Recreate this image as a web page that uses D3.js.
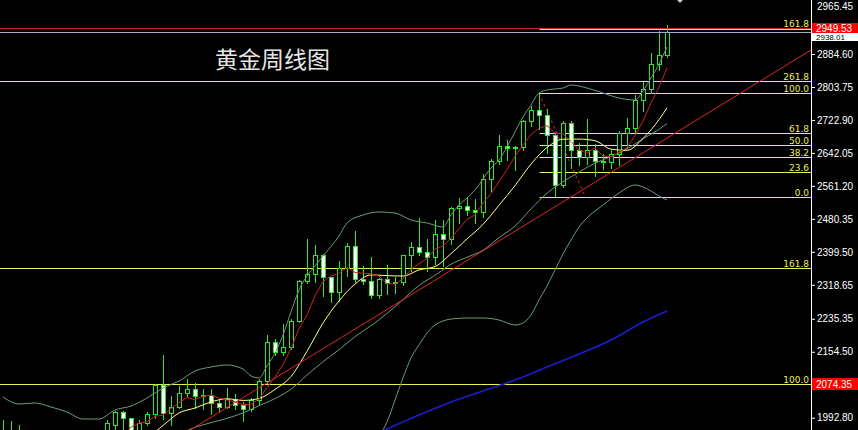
<!DOCTYPE html>
<html><head><meta charset="utf-8">
<script src="https://cdn.jsdelivr.net/npm/d3@7"></script>
<style>html,body{margin:0;padding:0;background:#000;overflow:hidden}</style>
</head><body>
<svg id="c" width="858" height="430"></svg>
<script>
// ---------- DATA ----------
const titleText = "黄金周线图";
const opens  = [1955,1962,1959,1943,1913,1889,1914,1940,1919,1924,1925,1848,1832,1932,1975,2006,1992,1937,1981,2002,2072,2004,2019,2053,2063,2045,2049,2029,2018,2039,2024,2013,2035,2083,2179,2155,2165,2229,2329,2344,2392,2337,2301,2360,2414,2333,2327,2293,2333,2322,2326,2392,2411,2400,2386,2443,2431,2507,2512,2503,2497,2578,2622,2658,2653,2657,2720,2747,2736,2685,2563,2716,2650,2633,2648,2622,2621,2639,2690,2702,2771,2799,2861,2883];
const highs  = [1988,1984,1974,1948,1916,1922,1953,1953,1933,1947,1936,1858,1933,1987,2009,2009,1993,1988,2007,2075,2146,2047,2070,2088,2079,2062,2062,2036,2065,2051,2032,2041,2088,2195,2185,2222,2236,2330,2431,2417,2395,2338,2378,2422,2450,2364,2388,2336,2368,2338,2392,2424,2483,2432,2477,2477,2509,2531,2531,2529,2590,2626,2685,2673,2660,2722,2758,2789,2750,2688,2721,2721,2666,2726,2664,2639,2650,2697,2728,2784,2817,2887,2941,2955];
const lows   = [1948,1942,1928,1913,1885,1884,1913,1915,1901,1913,1857,1810,1831,1908,1953,1965,1931,1931,1976,1993,1990,1975,2016,2045,2017,2013,2001,2010,2016,2015,1984,2009,2024,2079,2146,2146,2161,2228,2322,2325,2291,2277,2280,2340,2325,2320,2286,2286,2295,2299,2318,2353,2392,2353,2370,2364,2418,2470,2491,2471,2485,2547,2615,2625,2600,2648,2708,2700,2643,2537,2559,2604,2613,2615,2585,2603,2604,2612,2653,2694,2745,2790,2845,2877];
const closes = [1962,1959,1943,1913,1889,1914,1940,1919,1924,1925,1848,1832,1932,1981,2006,1992,1937,1980,2001,2072,2004,2019,2053,2063,2045,2049,2029,2018,2039,2024,2013,2035,2083,2178,2155,2165,2230,2329,2344,2392,2337,2301,2360,2414,2333,2327,2293,2333,2322,2326,2392,2411,2400,2386,2443,2431,2507,2512,2503,2497,2578,2622,2658,2653,2657,2720,2747,2736,2685,2563,2716,2650,2633,2648,2622,2621,2639,2690,2702,2771,2799,2861,2883,2938];

// red MA (read per bar, starting at bar 13)
const ma5Start = 13;
const ma5 = [1903.6,1919.8,1948.6,1969.6,1979.2,1983.2,1996.4,1998.8,2015.2,2029.8,2042.2,2036.8,2045.8,2047.8,2040.8,2036,2031.8,2024.6,2025.8,2038.8,2066.6,2092.8,2123.2,2162.2,2211.4,2244.6,2292,2326.4,2340.6,2346.8,2360.8,2349,2347,2345.4,2340,2321.6,2320.2,2333.2,2356.8,2370.2,2383,2406.4,2414.2,2433.4,2455.8,2479.2,2490,2519.4,2542.4,2571.6,2601.6,2633.6,2662,2687,2702.6,2709,2690.2,2689.4,2670,2649.4,2642,2653.8,2634.8,2632.6,2644,2654.8,2684.6,2720.2,2764.6,2803.2,2850.4];
// yellow MA
const ma10Idx = [10,12,14,16,18,20,22,24,26,28,30,32,34,36,38,40,42,44,46,48,50,52,54,56,58,60,62,64,66,68,70,72,74,76,78,80,82,83];
const ma10 = [1917.4,1903.6,1922.1,1929.6,1943.4,1973.7,2004.5,2016.6,2031.5,2039.1,2035.2,2039.8,2062.3,2094,2155.6,2224.8,2279.1,2320.5,2343,2341.2,2340.1,2355.1,2363.3,2395.1,2431.1,2466.8,2513.7,2561.8,2614.7,2655.3,2675.7,2676,2672,2651.3,2648.4,2677.5,2723.6,2752.6];
// band middle
const midIdx = [20,22,24,26,28,30,32,34,36,38,40,42,44,46,48,50,52,54,56,58,60,62,64,66,68,70,72,74,76,78,80,82,83];
const mid = [1945.6,1954,1969.4,1980.6,1991.3,2004.5,2022.2,2039.5,2062.8,2097.4,2130,2159.5,2191.4,2218.5,2248.4,2282.5,2317.1,2341.9,2369.1,2386.2,2403.5,2434.4,2462.6,2504.9,2543.2,2571.3,2594.9,2616.9,2633,2651.9,2676.6,2699.8,2714.1];
// band upper
const upIdx = [0,2,4,6,8,10,12,14,16,18,20,22,24,26,28,30,31,32,33,34,35,36,37,38,39,40,42,43,45,47,49,51,53,55,56,57,58,59,61,62,63,65,66,67,68,70,71,73,75,77,79,80,81,82,83];
const up = [2043.6,2026.4,2028.9,2019,2006.8,1989.6,1989.6,2011.7,2021.5,2041.1,2065.6,2082.8,2107.3,2117.1,2122,2112.2,2095.1,2090.2,2119.6,2151.5,2195.6,2252,2305.9,2340.3,2364.8,2389.3,2438.3,2470.2,2489.8,2497.2,2494.7,2477.6,2470.2,2460.4,2489.8,2514.3,2531.5,2551.1,2605.1,2624.7,2656.6,2730.1,2759.6,2789,2796.3,2801.2,2808.6,2801.2,2789,2776.7,2771.8,2793.9,2825.8,2860.1,2901.8];
// band lower
const loIdx = [44,46,47,48,49,50,51,52,53,54,55,56,58,60,62,64,65,66,67,68,69,70,71,72,73,75,77,79,80,81,82,83];
const lo = [1889,1925.9,1947.9,1982.3,2036.2,2090.2,2139.2,2171.1,2200.5,2220.1,2229.9,2234.8,2237.3,2237.3,2232.4,2220.1,2225,2244.6,2281.4,2315.7,2355,2394.2,2428.5,2460.4,2482.5,2514.3,2543.8,2563.4,2558.5,2548.7,2536.4,2526.6];
// blue long MA
const blueIdx = [46,48,52,56,60,64,68,72,76,80,83];
const blue = [1947.9,1965.1,1999.4,2031.3,2058.3,2085.2,2117.1,2149,2183.3,2227.4,2254.4];
// trend line anchors (bar index, price)
const trendIdx = [23.4, 101];
const trendVal = [1962.6, 2894.4];
// fibonacci (small set, drawn from bar 67)
const fibStartIdx = 67;
const fibLevels = ["0.0","23.6","38.2","50.0","61.8","100.0"];
const fibPrices = [2534, 2594.2, 2631.4, 2661.5, 2691.6, 2789];
const fibAnchorIdx = [67, 72.8];
const fibAnchorVal = [2789, 2534];
const fibTopLabel = "161.8";
const fibTopPrice = 2946.6;
// fibonacci (large set, full width)
const bigFibLevels = ["100.0","161.8","261.8"];
const bigFibPrices = [2074.35, 2358.8, 2819.2];
// price markers
const redPrice = 2949.53;
const bidPrice = 2938.01;
const redLevelLabel = 2074.35;
// axis ticks
const yTicks = [2965.45,2884.60,2803.75,2722.90,2642.05,2561.20,2480.35,2399.50,2318.65,2235.35,2154.50,1992.80];

// ---------- CHART ----------
const W = 858, H = 430, plotRight = 811;
const n = closes.length;
const x = d3.scaleLinear().domain([0, 83]).range([3, 667]);
const y = d3.scaleLinear().domain([1992.80, 2884.60]).range([417.7, 54]);
const px = v => Math.round(v) + 0.5;

const svg = d3.select('#c');
svg.append('rect').attr('width', W).attr('height', H).attr('fill', '#000');
svg.append('defs').append('clipPath').attr('id', 'pc')
  .append('rect').attr('x', 0).attr('y', 0).attr('width', plotRight).attr('height', H);
const g = svg.append('g').attr('clip-path', 'url(#pc)');

// title
g.append('text').attr('x', 215).attr('y', 68).text(titleText)
  .attr('fill', '#e6e6e6').style('font', '23px "Noto Sans CJK SC", sans-serif');

const FIB = '#eeee58';
// large fib set (full width)
bigFibPrices.forEach((p, k) => {
  const yy = px(y(p));
  g.append('line').attr('x1', 0).attr('x2', plotRight).attr('y1', yy).attr('y2', yy)
    .attr('stroke', FIB).attr('stroke-width', 1);
  g.append('text').attr('x', 809).attr('y', yy - 2).attr('text-anchor', 'end')
    .text(bigFibLevels[k]).attr('fill', FIB).style('font', '9px "DejaVu Sans", sans-serif');
});
// small fib set
const fx0 = px(x(fibStartIdx));
fibPrices.forEach((p, k) => {
  const yy = px(y(p));
  g.append('line').attr('x1', fx0).attr('x2', plotRight).attr('y1', yy).attr('y2', yy)
    .attr('stroke', FIB).attr('stroke-width', 1);
  g.append('text').attr('x', 809).attr('y', yy - 2).attr('text-anchor', 'end')
    .text(fibLevels[k]).attr('fill', FIB).style('font', '9px "DejaVu Sans", sans-serif');
});
{
  const yy = px(y(fibTopPrice));
  g.append('line').attr('x1', fx0).attr('x2', plotRight).attr('y1', yy).attr('y2', yy)
    .attr('stroke', FIB).attr('stroke-width', 1);
  g.append('text').attr('x', 809).attr('y', yy - 3).attr('text-anchor', 'end')
    .text(fibTopLabel).attr('fill', FIB).style('font', '9px "DejaVu Sans", sans-serif');
}
// fib anchor dashed line
g.append('line')
  .attr('x1', x(fibAnchorIdx[0])).attr('y1', y(fibAnchorVal[0]))
  .attr('x2', x(fibAnchorIdx[1])).attr('y2', y(fibAnchorVal[1]))
  .attr('stroke', '#e02020').attr('stroke-dasharray', '3,3').attr('stroke-width', 1);

// candles
const GREEN = '#22ee22';
const candles = d3.range(n).map(i => ({i, o: opens[i], h: highs[i], l: lows[i], c: closes[i]}));
const cg = g.append('g');
cg.selectAll('line.w').data(candles).join('line').attr('class', 'w')
  .attr('x1', d => px(x(d.i))).attr('x2', d => px(x(d.i)))
  .attr('y1', d => Math.round(y(d.h))).attr('y2', d => Math.round(y(d.l)) + 1)
  .attr('stroke', GREEN).attr('stroke-width', 1);
cg.selectAll('rect.b').data(candles).join('rect').attr('class', 'b')
  .attr('x', d => px(x(d.i)) - 2)
  .attr('y', d => px(y(Math.max(d.o, d.c))))
  .attr('width', 4)
  .attr('height', d => Math.max(0, px(y(Math.min(d.o, d.c))) - px(y(Math.max(d.o, d.c)))))
  .attr('fill', d => d.c >= d.o ? '#000' : '#ffffff')
  .attr('stroke', GREEN).attr('stroke-width', 1);

// indicator lines
const mkLine = (idx, vals, curve) => d3.line()
  .x((d, k) => x(idx[k])).y(d => y(d)).curve(curve)(vals);
const BAND = '#6a9a78';
g.append('path').attr('d', mkLine(upIdx, up, d3.curveMonotoneX)).attr('fill', 'none').attr('stroke', BAND).attr('stroke-width', 1);
g.append('path').attr('d', mkLine(loIdx, lo, d3.curveMonotoneX)).attr('fill', 'none').attr('stroke', BAND).attr('stroke-width', 1);
g.append('path').attr('d', mkLine(midIdx, mid, d3.curveMonotoneX)).attr('fill', 'none').attr('stroke', BAND).attr('stroke-width', 1);
g.append('path').attr('d', mkLine(blueIdx, blue, d3.curveMonotoneX)).attr('fill', 'none').attr('stroke', '#1c1cd0').attr('stroke-width', 1.6);
g.append('path').attr('d', mkLine(ma10Idx, ma10, d3.curveMonotoneX)).attr('fill', 'none').attr('stroke', '#ffff88').attr('stroke-width', 1);
g.append('path').attr('d', mkLine(ma5.map((v, k) => k + ma5Start), ma5, d3.curveLinear)).attr('fill', 'none').attr('stroke', '#cc2222').attr('stroke-width', 1);
// trend line
g.append('line')
  .attr('x1', x(trendIdx[0])).attr('y1', y(trendVal[0]))
  .attr('x2', x(trendIdx[1])).attr('y2', y(trendVal[1]))
  .attr('stroke', '#e02424').attr('stroke-width', 1);

// price level lines
g.append('line').attr('x1', 0).attr('x2', plotRight).attr('y1', px(y(bidPrice))).attr('y2', px(y(bidPrice)))
  .attr('stroke', '#a8a8c8').attr('stroke-width', 1);
g.append('line').attr('x1', 0).attr('x2', plotRight).attr('y1', px(y(redPrice))).attr('y2', px(y(redPrice)))
  .attr('stroke', '#d01e1e').attr('stroke-width', 1);

// small top marker
svg.append('path').attr('d', 'M677,0 L683,0 L680,3 Z').attr('fill', '#cccccc');

// right axis
svg.append('line').attr('x1', 811.5).attr('x2', 811.5).attr('y1', 0).attr('y2', H).attr('stroke', '#fff');
const axisG = svg.append('g').attr('transform', 'translate(811,0)')
  .call(d3.axisRight(y).tickValues(yTicks).tickSize(4).tickPadding(2).tickFormat(d3.format('.2f')));
axisG.select('.domain').remove();
axisG.selectAll('line').attr('stroke', '#fff');
axisG.selectAll('text').attr('fill', '#fff').style('font', '10px "Liberation Sans", Arial, sans-serif');
axisG.selectAll('.tick').filter(d => d === yTicks[0]).attr('transform', 'translate(0,7)').select('line').remove();

// axis price boxes
const box = (p, bg, fg, top, h, fs) => {
  svg.append('rect').attr('x', 812).attr('y', top).attr('width', 46).attr('height', h).attr('fill', bg);
  svg.append('text').attr('x', 816).attr('y', top + h / 2).attr('dy', '0.35em').text(d3.format('.2f')(p))
    .attr('fill', fg).style('font', fs + 'px "Liberation Sans", Arial, sans-serif');
};
const yRed = y(redPrice), yBid = y(bidPrice), yLvl = y(redLevelLabel);
box(bidPrice, '#ffffff', '#000', Math.round(yRed + 5), 8, 8);
box(redPrice, '#ff0000', '#fff', Math.round(yRed - 5), 10, 10);
box(redLevelLabel, '#ff0000', '#fff', Math.round(yLvl - 6), 12, 10);
</script>
</body></html>
